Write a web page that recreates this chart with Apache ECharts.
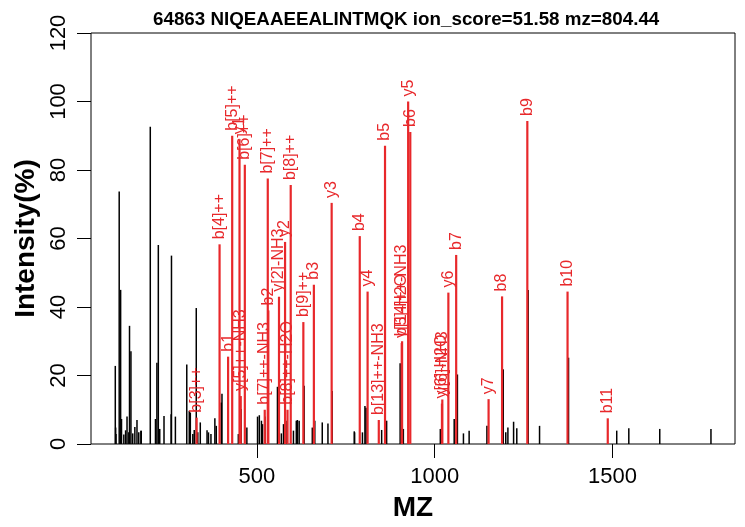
<!DOCTYPE html>
<html>
<head>
<meta charset="utf-8">
<script src="https://cdn.jsdelivr.net/npm/echarts@6/dist/echarts.min.js"></script>
<style>
html,body{margin:0;padding:0;background:#fff;}
#chart{width:745px;height:527px;}
</style>
</head>
<body>
<div id="chart"></div>
<script>
// ---- data ----
const titleText = '64863 NIQEAAEEALINTMQK ion_score=51.58 mz=804.44';
const xTicks = [500, 1000, 1500];
const yTicks = [0, 20, 40, 60, 80, 100, 120];

// unannotated peaks (m/z, intensity %)
const blackMz = [102, 103, 104, 113, 117, 119.5, 126, 131, 135, 140, 142, 146, 151, 157, 163, 168, 174, 175, 200.4,
  215, 219, 223, 227, 239, 259, 260, 271, 303, 310, 313, 320, 324, 329.7, 334, 341, 360, 364, 371, 382, 386, 400, 402,
  448, 456, 472, 502, 507, 513, 516, 523, 558, 569, 575, 582, 603, 611, 614, 619, 633, 656, 663, 684, 700, 712,
  775, 774, 797, 804, 807, 851, 865, 903, 912, 1016, 1055, 1064, 1081, 1097, 1147, 1193, 1200, 1206, 1222, 1231, 1263, 1295, 1376.5, 1512, 1546, 1633, 1777];
const blackInt = [22.8, 4.8, 2.9, 73.7, 45, 7.3, 2.8, 4, 8, 3.4, 34.5, 27.1, 3.1, 5, 7, 3.4, 3.9, 3.9, 92.6,
  7.3, 23.7, 58.1, 4.4, 8.2, 8.7, 55, 8, 23.2, 9.7, 9.2, 2.9, 4.1, 39.7, 3.4, 6.3, 4, 3.4, 2.9, 7.5, 5.3, 12.1, 14.7,
  2.9, 10.2, 4.8, 8, 8.4, 6.8, 5.8, 8, 16.7, 3.1, 5.8, 6.8, 3.9, 6.8, 7, 6.8, 17, 4.8, 6.8, 6.3, 6, 15.5,
  3.4, 3.7, 3.4, 11.1, 10.6, 4.1, 6.8, 23.6, 4.4, 4.4, 7.3, 20.3, 3.1, 3.9, 5.3, 21.8, 3.4, 4.8, 6.5, 4.6, 45, 5.3, 25.2, 3.9, 4.6, 4.4, 4.4];

// annotated fragment peaks
const ionMz = [330.70, 395.22, 419.26, 430.74, 451.32, 454.75, 466.26, 522.27, 530.78, 532.34, 562.35, 579.38, 586.29,
  595.30, 630.82, 660.40, 710.42, 789.44, 811.47, 842.94, 860.48, 907.50, 908.46, 925.51, 931.51, 1020.58, 1021.57,
  1038.59, 1060.56, 1151.68, 1189.60, 1260.64, 1373.72, 1486.81];
const ionInt = [7.7, 58.3, 25.5, 90, 89, 14, 81.5, 10, 77.5, 39, 43, 59, 10,
  75.6, 35.6, 46.5, 70.4, 60.7, 44.5, 7, 87.1, 29.5, 30, 100, 91.1, 11.8, 13,
  44.2, 55.2, 13.1, 43.1, 94.3, 44.5, 7.5];
const ionLabel = ['b[3]++', 'b[4]++', 'b1', 'b[5]++', 'y1', 'y[5]++-NH3', 'b[6]++', 'b[7]++-NH3', 'b[7]++', 'b2', 'y[2]-NH3', 'y2', 'b[8]++-H2O',
  'b[8]++', 'b[9]++', 'b3', 'y3', 'b4', 'y4', 'b[13]++-NH3', 'b5', 'y[5]-H2O', 'b[14]++-NH3', 'y5', 'b6', 'y[6]-H2O', 'y[6]-NH3',
  'y6', 'b7', 'y7', 'b8', 'b9', 'b10', 'b11'];

// ---- chart ----
const FONT = '"Liberation Sans", Arial, Helvetica, sans-serif';
const RED = '#e8282b';
const blackData = blackMz.map((m, i) => [m, blackInt[i]]);
const ionData = ionMz.map((m, i) => [m, ionInt[i], ionLabel[i]]);

function peakItem(color, withLabel) {
  return function (params, api) {
    const x = api.value(0), y = api.value(1);
    const p0 = api.coord([x, 0]);
    const p1 = api.coord([x, y]);
    const line = {
      type: 'line',
      shape: { x1: p0[0], y1: p0[1], x2: p1[0], y2: p1[1] },
      style: { stroke: color, lineWidth: withLabel ? 2.2 : 1.5 }
    };
    if (!withLabel) return line;
    return {
      type: 'group',
      children: [line, {
        type: 'text',
        x: p1[0], y: p1[1] - 5,
        rotation: Math.PI / 2,
        style: {
          text: api.value(2), fill: color,
          font: '16px ' + FONT,
          align: 'left', verticalAlign: 'middle'
        }
      }]
    };
  };
}

const chart = echarts.init(document.getElementById('chart'), null, { renderer: 'canvas' });
chart.setOption({
  animation: false,
  backgroundColor: '#fff',
  title: {
    text: titleText, left: 153, top: 10, padding: 0,
    textStyle: { fontFamily: FONT, fontSize: 18.8, fontWeight: 'bold', color: '#000' }
  },
  grid: { left: 91, right: 10, top: 33, bottom: 80, show: true, borderColor: '#000', borderWidth: 1, backgroundColor: 'transparent' },
  xAxis: {
    type: 'value', min: 33.7, max: 1844.6,
    name: 'MZ', nameLocation: 'middle', nameGap: 50,
    nameTextStyle: { fontFamily: FONT, fontSize: 28, fontWeight: 'bold', color: '#000' },
    axisLine: { show: false },
    splitLine: { show: false },
    axisTick: { show: true, length: 14, lineStyle: { color: '#000', width: 1 }, customValues: xTicks },
    axisLabel: { fontFamily: FONT, fontSize: 22, color: '#000', margin: 22, customValues: xTicks,
      formatter: function (v) { return String(v); } }
  },
  yAxis: {
    type: 'value', min: 0, max: 120, interval: 20,
    name: 'Intensity(%)', nameLocation: 'middle', nameGap: 47, nameRotate: 90,
    nameTextStyle: { fontFamily: FONT, fontSize: 28, fontWeight: 'bold', color: '#000' },
    axisLine: { show: false },
    splitLine: { show: false },
    axisTick: { show: true, length: 14, lineStyle: { color: '#000', width: 1 }, customValues: yTicks },
    axisLabel: { fontFamily: FONT, fontSize: 22, color: '#000', margin: 21, rotate: 90, customValues: yTicks,
      formatter: function (v) { return String(v); } }
  },
  series: [
    { type: 'custom', data: blackData, renderItem: peakItem('#000', false), clip: true, z: 2 },
    { type: 'custom', data: ionData, renderItem: peakItem(RED, true), clip: false, z: 3,
      encode: { x: 0, y: 1 } }
  ]
});
</script>
</body>
</html>
